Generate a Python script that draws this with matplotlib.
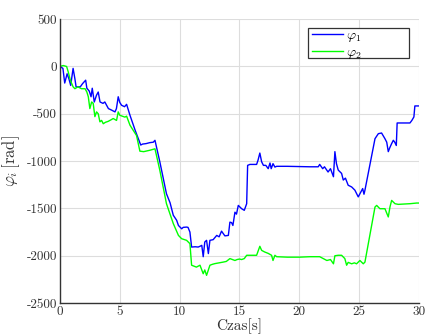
import matplotlib
matplotlib.use("Agg")
import matplotlib.pyplot as plt
from matplotlib.patches import Rectangle

# phi_1 (blue)
t1 = [0, 0.25, 0.4, 0.6, 0.75, 0.9, 1.1, 1.25, 1.35, 1.7, 1.9, 2.15, 2.25, 2.45, 2.6, 2.7,
      2.87, 3.05, 3.2, 3.35, 3.6, 3.75, 4.05, 4.3, 4.6, 4.72, 4.87, 5.0, 5.15, 5.4, 5.57,
      5.85, 6.3, 6.75, 6.9, 7.2, 7.5, 7.8, 7.94, 8.35, 8.9, 9.2, 9.47, 9.75, 9.9, 10.17,
      10.3, 10.58, 10.7, 10.86, 11.0, 11.3, 11.55, 11.7, 11.85, 11.97, 12.1, 12.25, 12.4,
      12.53, 12.8, 13.1, 13.3, 13.5, 13.78, 14.07, 14.2, 14.34, 14.45, 14.62, 14.75, 14.9,
      15.18, 15.4, 15.6, 15.68, 15.87, 16.43, 16.55, 16.7, 16.85, 17.0, 17.2, 17.4, 17.55,
      17.65, 17.8, 17.96, 18.1, 19.0, 20.0, 20.9, 21.58, 21.7, 21.95, 22.1, 22.4, 22.6,
      22.85, 22.97, 23.1, 23.25, 23.53, 23.67, 23.85, 24.08, 24.37, 24.64, 24.92, 25.06,
      25.29, 25.4, 25.48, 26.32, 26.6, 26.87, 27.0, 27.15, 27.3, 27.43, 27.55, 27.71,
      27.85, 27.97, 28.1, 28.17, 29.24, 29.4, 29.57, 29.65, 30.0]
p1 = [0, -20, -175, -77, -130, -200, -20, -130, -215, -215, -180, -145, -230, -260, -320, -230,
      -375, -305, -270, -375, -390, -375, -445, -460, -480, -445, -320, -380, -410, -425, -400,
      -515, -680, -830, -820, -815, -805, -800, -780, -1010, -1345, -1440, -1572, -1625, -1680, -1715,
      -1700, -1697, -1700, -1750, -1908, -1905, -1908, -1900, -1890, -2010, -1855, -1837, -1977,
      -1837, -1830, -1785, -1800, -1740, -1790, -1785, -1645, -1650, -1680, -1540, -1560, -1468,
      -1503, -1520, -1450, -1045, -1035, -1035, -990, -915, -1007, -1045, -1045, -1080, -1020,
      -1080, -1027, -1063, -1055, -1055, -1058, -1060, -1060, -1035, -1080, -1060, -1115, -1080,
      -1165, -900, -1027, -1095, -1130, -1200, -1180, -1255, -1273, -1307, -1378, -1345,
      -1290, -1350, -1307, -763, -710, -703, -730, -763, -800, -900, -860, -815,
      -780, -800, -835, -597, -597, -570, -533, -417, -417]

# phi_2 (green)
t2 = [0, 0.28, 0.56, 0.7, 0.84, 0.95, 1.1, 1.25, 1.5, 1.8, 2.1, 2.25, 2.37, 2.5, 2.65, 2.78,
      2.92, 3.06, 3.2, 3.34, 3.48, 3.62, 3.8, 4.03, 4.25, 4.45, 4.73, 4.87, 5.0, 5.2, 5.43,
      5.57, 5.85, 6.4, 6.68, 7.0, 7.52, 7.94, 8.35, 8.9, 9.47, 9.9, 10.17, 10.58, 10.86,
      11.0, 11.4, 11.7, 11.97, 12.1, 12.25, 12.4, 12.53, 12.75, 12.95, 13.3, 13.64, 13.9,
      14.2, 14.62, 14.8, 15.0, 15.18, 15.4, 15.6, 16.0, 16.43, 16.7, 16.85, 17.1, 17.4,
      17.68, 17.8, 17.96, 18.1, 19.0, 20.0, 20.9, 21.7, 22.3, 22.6, 22.85, 22.97, 23.25,
      23.53, 23.8, 23.95, 24.08, 24.37, 24.6, 24.78, 25.06, 25.34, 25.48, 26.32, 26.46,
      26.73, 27.15, 27.43, 27.57, 27.71, 27.99, 28.26, 29.24, 29.8, 30.0]
p2 = [0, 10, 0, -60, -130, -170, -215, -235, -215, -235, -235, -270, -320, -445, -375, -390,
      -530, -480, -500, -585, -570, -605, -590, -580, -565, -550, -570, -480, -515, -525, -535,
      -525, -620, -730, -895, -900, -885, -870, -1100, -1450, -1660, -1785, -1820, -1837, -1872,
      -2100, -2120, -2100, -2190, -2150, -2207, -2150, -2100, -2090, -2083, -2075, -2067, -2060,
      -2030, -2050, -2040, -2035, -2040, -2030, -1995, -1995, -1995, -1900, -1943, -1960, -1975,
      -1995, -2050, -1995, -2010, -2015, -2015, -2010, -2010, -2050, -2040, -2085, -2000, -1995,
      -1995, -2030, -2100, -2070, -2085, -2075, -2085, -2050, -2085, -2067, -1485, -1468,
      -1503, -1503, -1590, -1485, -1415, -1450, -1457, -1450, -1443, -1443]

xticks = [0, 5, 10, 15, 20, 25, 30]
yticks = [-2500, -2000, -1500, -1000, -500, 0, 500]

plt.rcParams['font.family'] = ['cmr10', 'DejaVu Serif']
plt.rcParams['mathtext.fontset'] = 'cm'
plt.rcParams['axes.unicode_minus'] = False
plt.rcParams['axes.formatter.use_mathtext'] = True

fig = plt.figure(figsize=(4.25, 3.36), dpi=100)
ax = fig.add_axes([0.141, 0.098, 0.845, 0.845])
ax.plot(t1, p1, color='#0000ff', lw=1.0, label=r'$\varphi_1$')
ax.plot(t2, p2, color='#00ff00', lw=1.0, label=r'$\varphi_2$')
ax.set_xlim(0, 30)
ax.set_ylim(-2500, 500)
ax.set_xticks(xticks)
ax.set_yticks(yticks)
ax.set_xticklabels([str(v) for v in xticks])
ax.set_yticklabels([str(v) for v in yticks])
ax.grid(True, color='#dddddd', lw=0.8)
ax.set_axisbelow(True)
for s in ['top', 'right']:
    ax.spines[s].set_visible(False)
for s in ['left', 'bottom']:
    ax.spines[s].set_color('#333333')
    ax.spines[s].set_linewidth(1.0)
ax.tick_params(length=0, labelsize=9.5, pad=2, colors='#333333')
ax.set_xlabel('Czas[s]', fontsize=11, labelpad=0, color='#333333')
ax.set_ylabel(r'$\varphi_i\,[\mathrm{rad}]$', fontsize=12, labelpad=3, color='#333333')

# legend box (MATLAB-style, wider than content)
box = Rectangle((0.691, 0.862), 0.281, 0.106, transform=ax.transAxes, facecolor='white',
                edgecolor='#333333', lw=0.9, zorder=5)
ax.add_patch(box)
leg = ax.legend(loc='upper left', bbox_to_anchor=(0.693, 0.975), fontsize=10,
                frameon=False, handlelength=2.25, borderpad=0.2,
                labelspacing=0.15, handletextpad=0.25, borderaxespad=0)
leg.set_zorder(6)
fig.savefig('out.png', dpi=100)
